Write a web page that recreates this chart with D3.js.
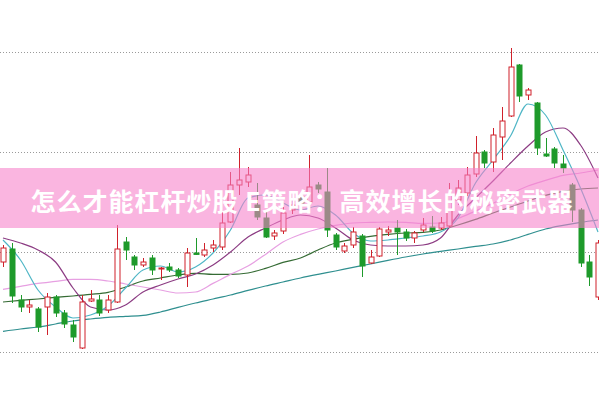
<!DOCTYPE html>
<html>
<head>
<meta charset="utf-8">
<script src="https://cdnjs.cloudflare.com/ajax/libs/d3/7.8.5/d3.min.js"></script>
<style>
  html, body { margin: 0; padding: 0; background: #fff; }
  svg { display: block; }
</style>
</head>
<body>
<svg id="chart"></svg>
<script>
var width = 599;
var height = 399;

// candle data (price units)
var opens  = [9.5, 10.15, 7.6, 7.25, 7.15, 7.25, 7.75, 6.95, 6.35, 5.2, 7.55, 7.6, 7.1, 7.5, 10.5, 9.75, 9.35, 9.7, 9.15, 9.25, 9.1, 8.85, 9.95, 9.85, 10.2, 10.25, 11.5, 13.35, 13.5, 12.35, 11.7, 10.8, 11.05, 12.1, 12.75, 12.5, 13.35, 13.0, 10.85, 10.05, 10.35, 10.8, 9.45, 9.8, 11.0, 11.2, 11.0, 10.7, 11.1, 11.25, 11.2, 11.3, 12.6, 12.95, 13.9, 15.0, 14.5, 15.75, 16.8, 19.35, 17.85, 17.45, 14.9, 15.15, 14.4, 13.35, 12.1, 9.5, 7.75];
var highs  = [10.35, 10.45, 7.85, 7.6, 7.25, 7.95, 7.85, 7.1, 6.6, 7.85, 8.1, 7.85, 7.85, 11.35, 10.75, 9.85, 9.7, 9.85, 9.25, 9.45, 9.2, 10.2, 10.7, 10.45, 10.6, 12.0, 14.0, 15.2, 14.25, 13.45, 12.0, 11.1, 12.25, 12.6, 12.95, 14.85, 13.5, 14.2, 10.95, 10.45, 11.25, 10.9, 10.1, 11.25, 11.3, 11.6, 11.15, 11.05, 11.7, 11.8, 11.75, 13.45, 13.6, 14.25, 15.8, 15.1, 16.2, 17.25, 20.2, 19.4, 18.2, 17.5, 15.7, 15.25, 14.85, 13.45, 12.2, 9.85, 10.6];
var lows   = [9.25, 7.45, 7.0, 6.95, 6.0, 5.85, 6.75, 6.2, 5.5, 5.15, 7.5, 6.8, 6.95, 7.45, 9.6, 9.1, 9.25, 8.85, 8.6, 9.0, 8.7, 8.25, 9.85, 9.75, 10.0, 10.1, 11.45, 12.85, 13.25, 11.6, 10.7, 10.6, 10.9, 11.9, 12.25, 12.0, 12.95, 10.75, 10.1, 9.95, 10.2, 8.75, 9.4, 9.75, 10.8, 9.85, 10.55, 10.45, 11.0, 10.95, 11.1, 11.2, 12.35, 12.8, 13.75, 14.2, 14.0, 14.6, 16.75, 17.5, 17.6, 14.85, 14.75, 14.2, 13.95, 11.5, 9.25, 8.3, 7.6];
var closes = [10.2, 7.8, 7.25, 7.35, 6.25, 7.75, 6.95, 6.4, 5.75, 7.5, 7.65, 6.95, 7.6, 10.15, 10.1, 9.35, 9.5, 9.1, 9.2, 9.1, 8.8, 9.95, 9.88, 10.1, 10.35, 11.45, 13.35, 13.6, 13.85, 11.75, 10.75, 10.95, 11.95, 12.35, 12.45, 13.25, 13.15, 11.1, 10.25, 10.3, 11.0, 9.3, 9.75, 11.15, 11.1, 11.0, 10.7, 10.95, 11.35, 11.05, 11.45, 12.85, 13.2, 13.85, 14.95, 14.45, 15.85, 16.55, 19.25, 17.8, 18.1, 15.2, 14.8, 14.45, 14.2, 12.1, 9.45, 8.75, 10.45];

// moving average lines, read at every second candle
var maIdx = [0, 2, 4, 6, 8, 10, 12, 14, 16, 18, 20, 22, 24, 26, 28, 30, 32, 34, 36, 38, 40, 42, 44, 46, 48, 50, 52, 54, 56, 58, 60, 62, 64, 66, 68];
var ma5  = [10.6, 9.6, 8.1, 7.25, 6.7, 6.85, 7.3, 8.2, 9.1, 9.3, 9.0, 9.25, 9.95, 11.1, 12.7, 12.85, 12.45, 12.1, 12.3, 11.85, 10.95, 10.55, 10.6, 10.7, 10.8, 11.0, 11.7, 13.45, 14.6, 15.8, 17.4, 16.85, 15.1, 13.2, 11.0];
var ma10 = [10.7, 10.45, 10.1, 9.5, 8.2, 7.25, 7.1, 7.35, 8.0, 8.35, 8.65, 8.9, 9.35, 10.0, 10.75, 11.2, 11.6, 11.85, 11.7, 11.2, 10.6, 10.35, 10.3, 10.3, 10.35, 10.7, 11.85, 12.7, 13.55, 14.45, 15.3, 16.0, 16.2, 15.35, 13.7];
var ma20 = [8.13, 8.28, 8.43, 8.53, 8.63, 8.63, 8.55, 8.4, 8.25, 8.1, 7.95, 8.0, 8.43, 8.88, 9.3, 9.88, 10.5, 10.88, 11.15, 11.33, 11.45, 11.48, 11.5, 11.48, 11.43, 11.45, 11.68, 12.05, 12.43, 12.9, 13.3, 13.58, 13.83, 13.95, 14.1];
var ma30 = [7.5, 7.58, 7.65, 7.73, 7.8, 7.88, 7.98, 8.25, 8.55, 8.7, 8.85, 8.93, 8.88, 8.88, 8.95, 9.18, 9.48, 9.7, 10.1, 10.45, 10.63, 10.78, 10.88, 10.95, 10.98, 11.1, 11.35, 11.63, 11.95, 12.25, 12.55, 12.83, 13.03, 13.15, 13.2];
var ma60 = [6.03, 6.15, 6.25, 6.4, 6.55, 6.65, 6.73, 6.78, 6.83, 7.0, 7.23, 7.45, 7.65, 7.85, 8.08, 8.3, 8.5, 8.7, 8.88, 9.05, 9.23, 9.4, 9.58, 9.75, 9.9, 10.03, 10.15, 10.28, 10.4, 10.6, 10.88, 11.15, 11.33, 11.48, 11.6];

var gridValues = [20, 15, 10, 5];
var title = "怎么才能杠杆炒股 E策略：高效增长的秘密武器";

var upColor = '#d0212b';
var downColor = '#1e9a2b';

var candles = opens.map(function(o, i){
  return {i: i, o: o, h: highs[i], l: lows[i], c: closes[i]};
});

var x = d3.scaleLinear()
          .domain([0, opens.length - 1])
          .range([3, 598]);

var y = d3.scaleLinear()
          .domain([5, 20])
          .range([352, 52]);

var svg = d3.select('#chart')
            .attr('width', width)
            .attr('height', height);

// dotted grid
svg.append('g')
  .selectAll('line')
  .data(gridValues)
  .enter()
  .append('line')
    .attr('x1', 0)
    .attr('x2', width)
    .attr('y1', d => Math.round(y(d)) + 0.5)
    .attr('y2', d => Math.round(y(d)) + 0.5)
    .attr('stroke', '#9a9a9a')
    .attr('stroke-width', 1)
    .attr('stroke-dasharray', '1,2');

// MA lines
var lines = [
  {values: ma60, color: '#2f8f8f'},
  {values: ma30, color: '#356b34'},
  {values: ma20, color: '#e7a0e2'},
  {values: ma10, color: '#8c3c83'},
  {values: ma5,  color: '#4fb6c6'}
];

var lineGen = d3.line()
  .x(d => x(d[0]))
  .y(d => y(d[1]))
  .curve(d3.curveMonotoneX);

svg.append('g')
  .selectAll('path')
  .data(lines)
  .enter()
  .append('path')
    .attr('fill', 'none')
    .attr('stroke', d => d.color)
    .attr('stroke-width', 1.2)
    .attr('d', d => lineGen(d.values.map((v, k) => [maIdx[k], v])));

// candles
var cg = svg.append('g')
  .selectAll('g')
  .data(candles)
  .enter()
  .append('g');

cg.append('line')
  .attr('x1', d => Math.round(x(d.i)) + 0.5)
  .attr('x2', d => Math.round(x(d.i)) + 0.5)
  .attr('y1', d => y(d.h))
  .attr('y2', d => y(d.l))
  .attr('stroke', d => d.c >= d.o ? upColor : downColor)
  .attr('stroke-width', 1);

cg.append('rect')
  .attr('x', d => Math.round(x(d.i)) - 2)
  .attr('width', 5)
  .attr('y', d => y(Math.max(d.o, d.c)))
  .attr('height', d => Math.max(1, Math.abs(y(d.o) - y(d.c))))
  .attr('fill', d => d.c >= d.o ? '#fff' : downColor)
  .attr('stroke', d => d.c >= d.o ? upColor : downColor)
  .attr('stroke-width', 1);

// banner
svg.append('rect')
  .attr('x', 0)
  .attr('y', 168)
  .attr('width', width)
  .attr('height', 60)
  .attr('fill', '#f77fca')
  .attr('opacity', 0.58);

svg.append('text')
  .attr('x', 302)
  .attr('y', 200)
  .attr('text-anchor', 'middle')
  .attr('dominant-baseline', 'central')
  .style('font-family', '"Noto Sans CJK SC", "Noto Sans", sans-serif')
  .style('font-weight', 'bold')
  .style('font-size', '25px')
  .style('letter-spacing', '1px')
  .attr('fill', '#fff')
  .text(title);
</script>
</body>
</html>
